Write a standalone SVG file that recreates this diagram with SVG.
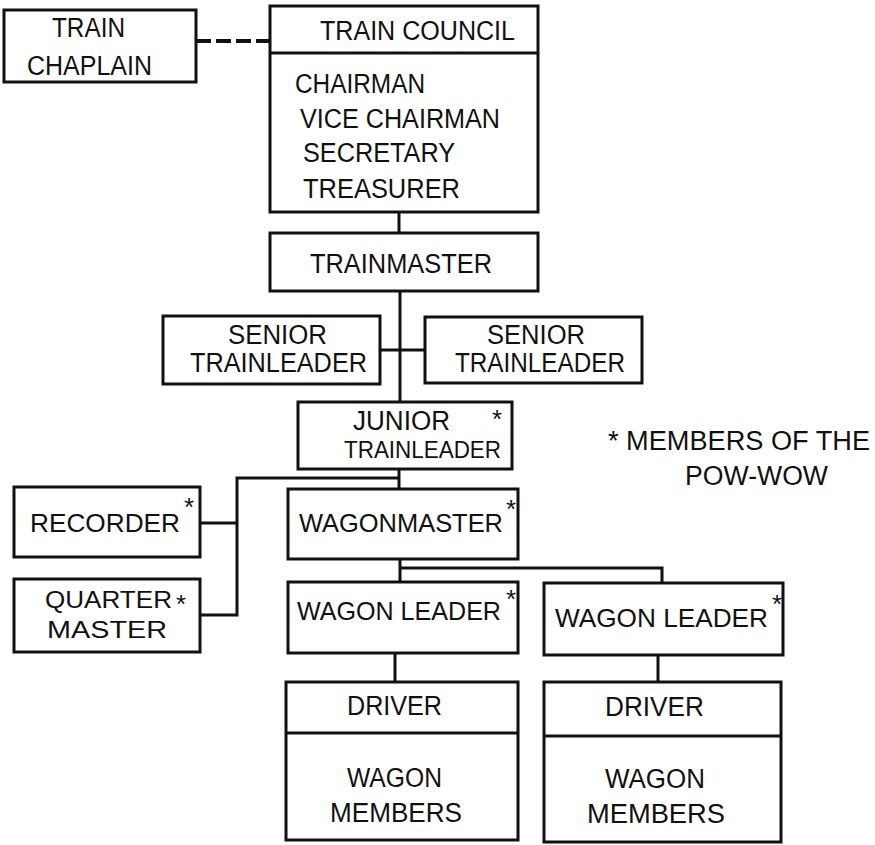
<svg xmlns="http://www.w3.org/2000/svg" width="875" height="845" viewBox="0 0 875 845">
<style>
.box{fill:#fff;stroke:#111;stroke-width:3}
.div{stroke:#111;stroke-width:3;fill:none}
.ln{stroke:#111;stroke-width:3;fill:none}
.dash{stroke:#111;stroke-width:4;fill:none;stroke-dasharray:15 5}
text{font-family:"Liberation Sans",Arial,sans-serif;font-size:27px;fill:#111}
.sm{font-size:24px}
.ast{font-size:26px}
</style>
<rect width="875" height="845" fill="#fff"/>
<g id="connectors">
<path class="dash" d="M196 41 H270"/>
<path class="ln" d="M399 212 V233"/>
<path class="ln" d="M400 291 V402"/>
<path class="ln" d="M380 350 H425"/>
<path class="ln" d="M399 468 V489"/>
<path class="ln" d="M399 478 H237 V615 H200"/>
<path class="ln" d="M200 523 H237"/>
<path class="ln" d="M400 559 V582"/>
<path class="ln" d="M400 568 H662 V583"/>
<path class="ln" d="M395 653 V682"/>
<path class="ln" d="M658 655 V682"/>
</g>
<g id="chaplain">
<rect class="box" x="4" y="10" width="192" height="72"/>
<text x="52" y="37" textLength="73" lengthAdjust="spacingAndGlyphs">TRAIN</text>
<text x="27" y="75" textLength="125" lengthAdjust="spacingAndGlyphs">CHAPLAIN</text>
</g>
<g id="council">
<rect class="box" x="270" y="6" width="268" height="206"/>
<path class="div" d="M270 53 H538"/>
<text x="320" y="40" textLength="195" lengthAdjust="spacingAndGlyphs">TRAIN COUNCIL</text>
<text x="295" y="93" textLength="130" lengthAdjust="spacingAndGlyphs">CHAIRMAN</text>
<text x="300" y="128" textLength="200" lengthAdjust="spacingAndGlyphs">VICE CHAIRMAN</text>
<text x="303" y="162" textLength="152" lengthAdjust="spacingAndGlyphs">SECRETARY</text>
<text x="303" y="198" textLength="157" lengthAdjust="spacingAndGlyphs">TREASURER</text>
</g>
<g id="trainmaster">
<rect class="box" x="270" y="233" width="268" height="58"/>
<text x="310" y="273" textLength="182" lengthAdjust="spacingAndGlyphs">TRAINMASTER</text>
</g>
<g id="senior-left">
<rect class="box" x="163" y="316" width="217" height="68"/>
<text x="228" y="344" textLength="99" lengthAdjust="spacingAndGlyphs">SENIOR</text>
<text x="190" y="372" textLength="177" lengthAdjust="spacingAndGlyphs">TRAINLEADER</text>
</g>
<g id="senior-right">
<rect class="box" x="425" y="317" width="217" height="66"/>
<text x="487" y="344" textLength="98" lengthAdjust="spacingAndGlyphs">SENIOR</text>
<text x="455" y="372" textLength="170" lengthAdjust="spacingAndGlyphs">TRAINLEADER</text>
</g>
<g id="junior">
<rect class="box" x="298" y="402" width="214" height="67"/>
<text x="353" y="430" textLength="97" lengthAdjust="spacingAndGlyphs">JUNIOR</text>
<text class="ast" x="492" y="428">*</text>
<text class="sm" x="344" y="458" textLength="157" lengthAdjust="spacingAndGlyphs">TRAINLEADER</text>
</g>
<g id="legend">
<text x="608" y="450" textLength="262" lengthAdjust="spacingAndGlyphs">* MEMBERS OF THE</text>
<text x="685" y="485" textLength="143" lengthAdjust="spacingAndGlyphs">POW-WOW</text>
</g>
<g id="recorder">
<rect class="box" x="14" y="487" width="186" height="70"/>
<text x="30" y="532" style="font-size:26.2px" textLength="150" lengthAdjust="spacingAndGlyphs">RECORDER</text>
<text class="ast" x="184" y="516">*</text>
</g>
<g id="quartermaster">
<rect class="box" x="14" y="579" width="186" height="73"/>
<text class="sm" x="45" y="608" textLength="127" lengthAdjust="spacingAndGlyphs">QUARTER</text>
<text class="ast" x="176" y="613">*</text>
<text class="sm" x="47" y="638" textLength="120" lengthAdjust="spacingAndGlyphs">MASTER</text>
</g>
<g id="wagonmaster">
<rect class="box" x="288" y="489" width="230" height="70"/>
<text x="299" y="532" style="font-size:25.3px" textLength="204" lengthAdjust="spacingAndGlyphs">WAGONMASTER</text>
<text class="ast" x="506" y="518">*</text>
</g>
<g id="wagonleader-left">
<rect class="box" x="288" y="582" width="230" height="71"/>
<text x="297" y="620" style="font-size:25px" textLength="204" lengthAdjust="spacingAndGlyphs">WAGON LEADER</text>
<text class="ast" x="506" y="608">*</text>
</g>
<g id="wagonleader-right">
<rect class="box" x="544" y="583" width="239" height="72"/>
<text x="555" y="627" style="font-size:26px" textLength="213" lengthAdjust="spacingAndGlyphs">WAGON LEADER</text>
<text class="ast" x="772" y="613">*</text>
</g>
<g id="driver-left">
<rect class="box" x="286" y="682" width="232" height="158"/>
<path class="div" d="M286 733 H518"/>
<text x="347" y="715" textLength="95" lengthAdjust="spacingAndGlyphs">DRIVER</text>
<text x="347" y="787" textLength="95" lengthAdjust="spacingAndGlyphs">WAGON</text>
<text x="330" y="822" textLength="132" lengthAdjust="spacingAndGlyphs">MEMBERS</text>
</g>
<g id="driver-right">
<rect class="box" x="544" y="682" width="237" height="160"/>
<path class="div" d="M544 736 H781"/>
<text x="605" y="716" textLength="99" lengthAdjust="spacingAndGlyphs">DRIVER</text>
<text x="605" y="788" textLength="100" lengthAdjust="spacingAndGlyphs">WAGON</text>
<text x="587" y="823" textLength="138" lengthAdjust="spacingAndGlyphs">MEMBERS</text>
</g>
</svg>
